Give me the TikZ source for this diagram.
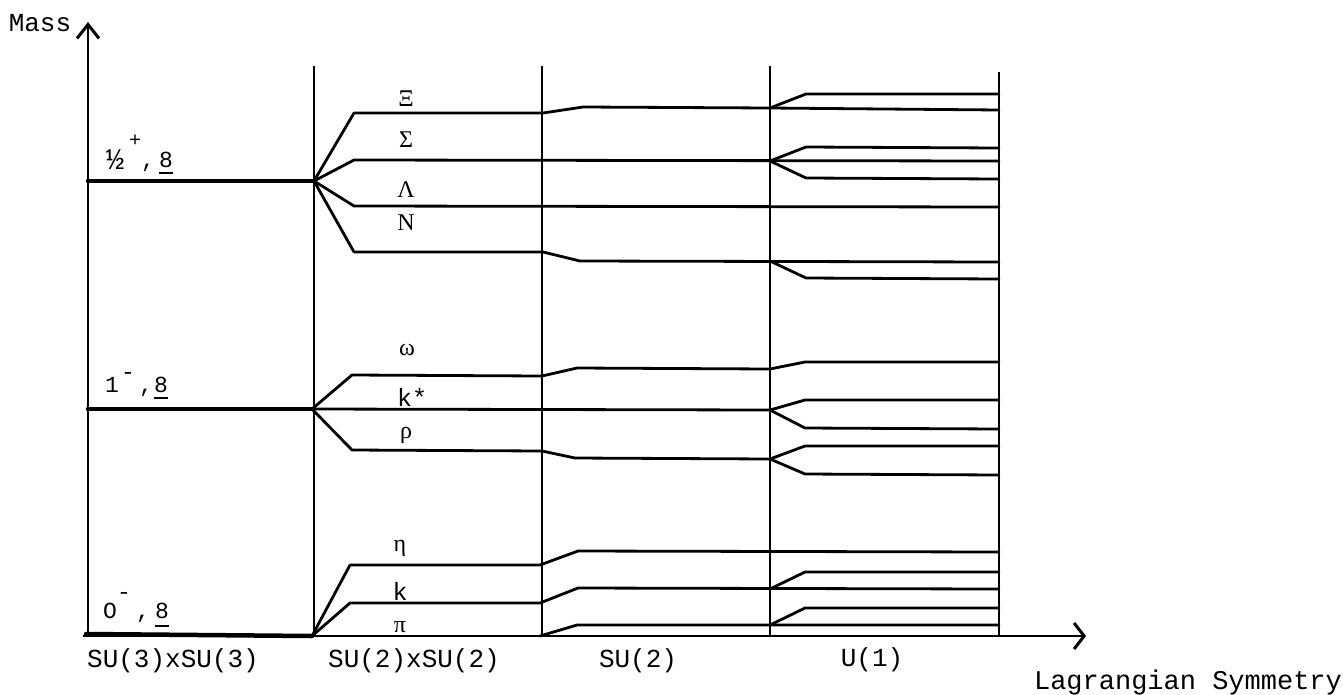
\documentclass[tikz,border=0pt]{standalone}
\usepackage{fontspec}
\setmonofont{Liberation Mono}
\newfontfamily\grk{Liberation Serif}
\usetikzlibrary{arrows.meta}
\begin{document}
\begin{tikzpicture}[x=1pt,y=-1pt,
  lvl/.style={line width=2.8pt, line join=round, line cap=round},
  baselvl/.style={line width=4.5pt, line cap=round},
  sep/.style={line width=2.5pt},
  ax/.style={line width=2.6pt},
  tt/.style={font=\ttfamily\fontsize{26}{28}\selectfont, inner sep=0pt},
  tts/.style={font=\ttfamily\fontsize{23}{25}\selectfont, inner sep=0pt},
  sup/.style={font=\ttfamily\fontsize{20}{22}\selectfont, inner sep=0pt},
  gr/.style={font=\grk\fontsize{24}{26}\selectfont, inner sep=0pt},
  ul/.style={line width=1.8pt}]
\useasboundingbox (0,0) rectangle (1343,694);

% axes
\coordinate (O) at (88,636);
\coordinate (Ostart) at (83,636);
\coordinate (Ytip) at (88,22);
\coordinate (Xtip) at (1086,636);
\draw[ax,-{Straight Barb[length=14pt,width=22pt,line width=3pt]}] (O) -- (Ytip);
\draw[ax,-{Straight Barb[length=10pt,width=26pt,line width=3pt]}] (Ostart) -- (Xtip);
\node[tt] (mass) at (40,23) {Mass};

% separators
\foreach \x/\t in {314/66,542/66,770/66,999/72}
  \draw[sep] (\x,\t) -- (\x,636);

% vertices
\coordinate (bv) at (314,181);
\coordinate (vv) at (312,409);
\coordinate (pv) at (312,636);
\coordinate (b0) at (88,181);
\coordinate (v0) at (88,409);
\coordinate (p0) at (86,634);

% baryons
\draw[baselvl] (b0) -- (bv);
\draw[lvl] (bv) -- (354,113) -- (543,113) -- (583,107) -- (770,108) -- (806,94) -- (999,94);
\draw[lvl] (770,108) -- (999,110);
\draw[lvl] (bv) -- (354,160) -- (999,161);
\draw[lvl] (770,161) -- (806,147) -- (999,148);
\draw[lvl] (770,161) -- (806,178) -- (999,179);
\draw[lvl] (bv) -- (354,206) -- (999,207);
\draw[lvl] (bv) -- (354,252) -- (543,252) -- (580,261) -- (999,262);
\draw[lvl] (770,261) -- (806,278) -- (999,279);

% vector mesons
\draw[baselvl] (v0) -- (vv);
\draw[lvl] (vv) -- (352,375) -- (542,376) -- (577,368) -- (770,369) -- (805,362) -- (999,362);
\draw[lvl] (vv) -- (770,410) -- (805,400) -- (999,400);
\draw[lvl] (770,410) -- (805,428) -- (999,429);
\draw[lvl] (vv) -- (352,450) -- (542,451) -- (575,458) -- (770,459) -- (805,446) -- (999,446);
\draw[lvl] (770,459) -- (805,474) -- (999,475);

% pseudoscalar mesons
\draw[baselvl] (p0) -- (pv);
\draw[lvl] (pv) -- (350,565) -- (540,565) -- (578,551) -- (999,552);
\draw[lvl] (pv) -- (350,603) -- (540,603) -- (578,588) -- (999,589);
\draw[lvl] (770,589) -- (805,572) -- (999,572);
\draw[lvl] (540,636) -- (577,625) -- (999,625);
\draw[lvl] (770,625) -- (805,608) -- (999,608);

% multiplet labels
\node[tt,font=\ttfamily\fontsize{30}{32}\selectfont,anchor=base] (bh) at (115,169) {½};
\node[sup,anchor=center] (bp) at (135,141) {+};
\node[tts,anchor=base] (bc) at (148,167) {,};
\node[tts,anchor=base] (b8) at (166,167) {8};
\draw[ul] ([yshift=-6pt]b8.base west) -- ([yshift=-6pt]b8.base east);

\node[tts,anchor=base] (v1) at (112,392) {1};
\node[tts,anchor=center] (vm) at (128,376) {-};
\node[tts,anchor=base] (vc) at (146,392) {,};
\node[tts,anchor=base] (v8) at (161,392) {8};
\draw[ul] ([yshift=-6pt]v8.base west) -- ([yshift=-6pt]v8.base east);

\node[tts,anchor=base] (p1) at (110,618) {O};
\node[tts,anchor=center] (pm) at (124,596) {-};
\node[tts,anchor=base] (pc) at (143,618) {,};
\node[tts,anchor=base] (p8) at (162,618) {8};
\draw[ul] ([yshift=-8pt]p8.base west) -- ([yshift=-8pt]p8.base east);

% particle labels
\node[gr] (xi) at (406,99) {Ξ};
\node[gr] (sigma) at (406,140) {Σ};
\node[gr] (lambda) at (406,190) {Λ};
\node[gr] (nuc) at (406,223) {N};
\node[gr] (omega) at (407,350) {ω};
\node[tt,font=\ttfamily\fontsize{25}{27}\selectfont] (kstar) at (412,397) {k*};
\node[gr] (rho) at (406,435) {ρ};
\node[gr] (eta) at (400,548) {η};
\node[tt,font=\ttfamily\fontsize{25}{27}\selectfont] (kaon) at (400,591) {k};
\node[gr] (pion) at (400,627) {π};

% symmetry labels
\node[tt] (s1) at (173,661) {SU(3)xSU(3)};
\node[tt] (s2) at (414,661) {SU(2)xSU(2)};
\node[tt] (s3) at (638,661) {SU(2)};
\node[tt] (s4) at (872,660) {U(1)};
\node[tt,font=\ttfamily\fontsize{27}{29}\selectfont] (lag) at (1188,683) {Lagrangian Symmetry};
\end{tikzpicture}
\end{document}
